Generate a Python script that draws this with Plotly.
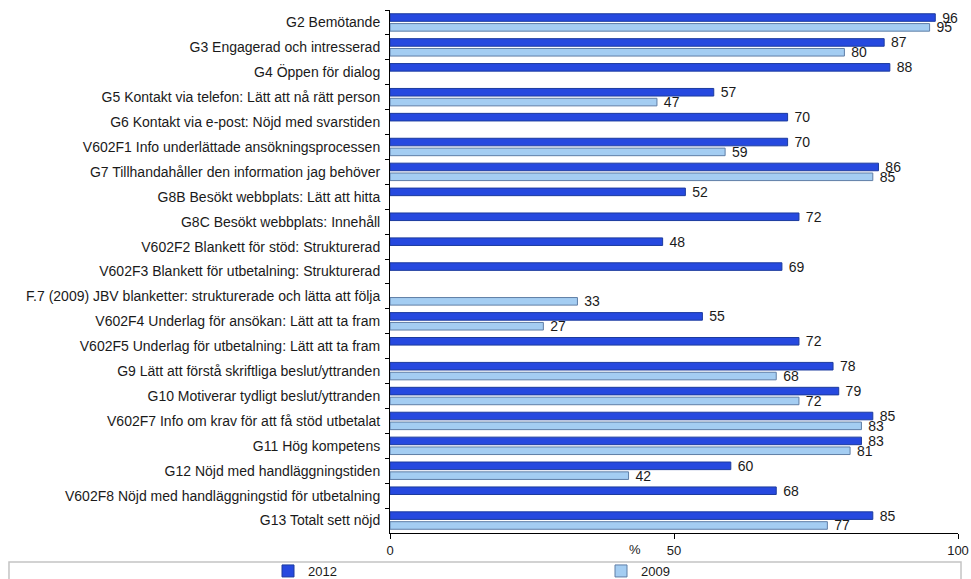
import plotly.graph_objects as go

# Survey items (top to bottom) and share of satisfied respondents, in percent
categories = [
    "G2 Bemötande",
    "G3 Engagerad och intresserad",
    "G4 Öppen för dialog",
    "G5 Kontakt via telefon: Lätt att nå rätt person",
    "G6 Kontakt via e-post: Nöjd med svarstiden",
    "V602F1 Info underlättade ansökningsprocessen",
    "G7 Tillhandahåller den information jag behöver",
    "G8B Besökt webbplats: Lätt att hitta",
    "G8C Besökt webbplats: Innehåll",
    "V602F2 Blankett för stöd: Strukturerad",
    "V602F3 Blankett för utbetalning: Strukturerad",
    "F.7 (2009) JBV blanketter: strukturerade och lätta att följa",
    "V602F4 Underlag för ansökan: Lätt att ta fram",
    "V602F5 Underlag för utbetalning: Lätt att ta fram",
    "G9 Lätt att förstå skriftliga beslut/yttranden",
    "G10 Motiverar tydligt beslut/yttranden",
    "V602F7 Info om krav för att få stöd utbetalat",
    "G11 Hög kompetens",
    "G12 Nöjd med handläggningstiden",
    "V602F8 Nöjd med handläggningstid för utbetalning",
    "G13 Totalt sett nöjd",
]

values_2012 = [96, 87, 88, 57, 70, 70, 86, 52, 72, 48, 69, None, 55, 72, 78, 79, 85, 83, 60, 68, 85]
values_2009 = [95, 80, None, 47, None, 59, 85, None, None, None, None, 33, 27, None, 68, 72, 83, 81, 42, None, 77]

x_ticks = [0, 50, 100]

FONT = "Liberation Sans, Arial, sans-serif"
W, H = 971, 579

fig = go.Figure()

fig.add_trace(go.Bar(
    name="2012",
    y=categories,
    x=values_2012,
    orientation="h",
    marker=dict(color="#2649df", line=dict(color="#1c3b9e", width=1)),
    texttemplate="\u00a0%{x}",
    textposition="outside",
    constraintext="none",
    cliponaxis=False,
    textfont=dict(family=FONT, size=14, color="#1a1a1a"),
    hoverinfo="x+y+name",
    legend="legend",
))

fig.add_trace(go.Bar(
    name="2009",
    y=categories,
    x=values_2009,
    orientation="h",
    marker=dict(color="#a4cdf2", line=dict(color="#5f7ea6", width=1)),
    texttemplate="\u00a0%{x}",
    textposition="outside",
    constraintext="none",
    cliponaxis=False,
    textfont=dict(family=FONT, size=14, color="#1a1a1a"),
    hoverinfo="x+y+name",
    legend="legend2",
))

# Legend frame spanning the width below the axis
fig.add_shape(
    type="rect", xref="paper", yref="paper",
    x0=-0.6708, x1=1.0053, y0=-0.0554, y1=-0.12,
    line=dict(color="#c4c4c4", width=1.5), fillcolor="rgba(0,0,0,0)",
    layer="below",
)

fig.add_annotation(
    text="%", xref="paper", yref="paper", x=0.431, y=-0.0306,
    xanchor="center", yanchor="middle", showarrow=False,
    font=dict(family=FONT, size=13, color="#1a1a1a"),
)

legend_style = dict(
    orientation="h",
    xref="container", yref="container",
    y=(H - 571) / H,
    xanchor="left", yanchor="middle",
    itemwidth=30,
    font=dict(family=FONT, size=13, color="#1a1a1a"),
    bgcolor="rgba(0,0,0,0)",
    itemclick=False, itemdoubleclick=False,
)

fig.update_layout(
    width=W,
    height=H,
    margin=dict(l=390, r=13, t=10, b=46, autoexpand=False),
    paper_bgcolor="white",
    plot_bgcolor="white",
    barmode="group",
    bargap=0.21,
    bargroupgap=0.23,
    font=dict(family=FONT, size=14, color="#1a1a1a"),
    showlegend=True,
    legend=dict(x=268 / W, **legend_style),
    legend2=dict(x=601 / W, **legend_style),
    xaxis=dict(
        range=[0, 100],
        tickvals=x_ticks,
        ticktext=[str(v) for v in x_ticks],
        showgrid=False,
        zeroline=False,
        showline=True,
        linecolor="#000000",
        linewidth=1,
        ticks="outside",
        ticklen=5,
        tickcolor="#000000",
        tickfont=dict(family=FONT, size=13, color="#1a1a1a"),
        fixedrange=True,
    ),
    yaxis=dict(
        type="category",
        autorange="reversed",
        showgrid=False,
        zeroline=False,
        showline=True,
        linecolor="#000000",
        linewidth=1,
        ticks="outside",
        ticklen=4,
        tickcolor="#000000",
        tickson="boundaries",
        ticklabelstandoff=6,
        tickfont=dict(family=FONT, size=14, color="#1a1a1a"),
        fixedrange=True,
    ),
)

fig.write_html("out.html")
